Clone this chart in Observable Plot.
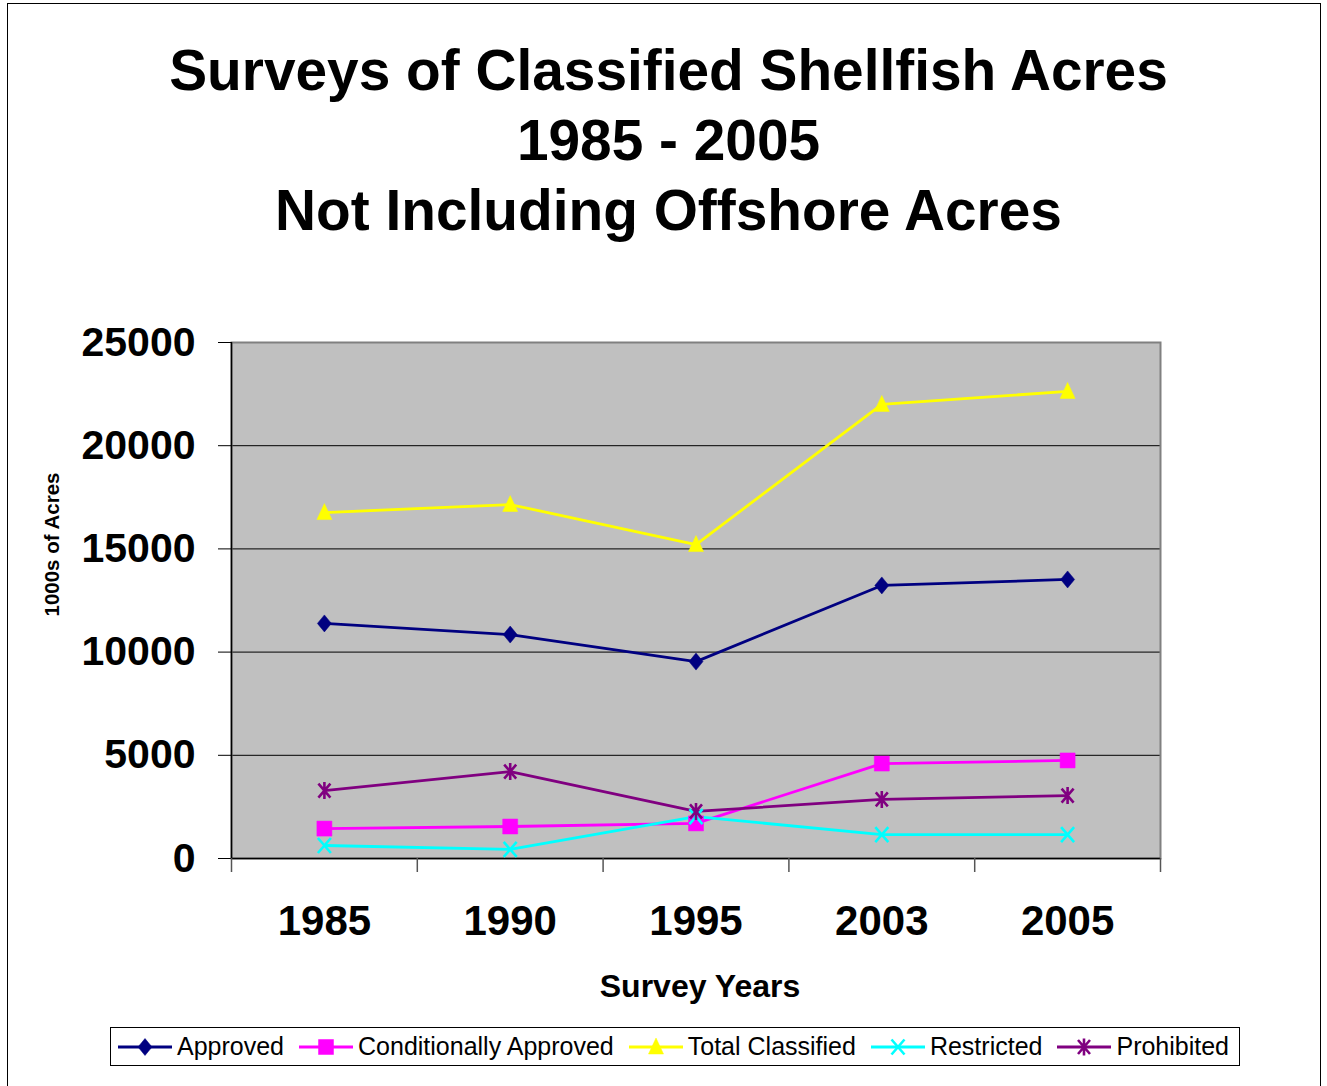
<!DOCTYPE html>
<html><head><meta charset="utf-8">
<script src="https://cdn.jsdelivr.net/npm/d3@7"></script>
<script src="https://cdn.jsdelivr.net/npm/@observablehq/plot@0.6"></script>
<style>
body{margin:0;background:#fff;font-family:"Liberation Sans",Arial,sans-serif;}
#page{position:relative;width:1327px;height:1086px;overflow:hidden;}
#frame{position:absolute;left:7px;top:3px;width:1312px;height:1100px;border:1.5px solid #000;}
#title{position:absolute;left:0;width:1337px;top:36px;text-align:center;font-weight:bold;font-size:56.8px;line-height:70px;color:#000;}
#chart{position:absolute;left:0;top:300px;}
#legend{position:absolute;left:110px;top:1027px;width:1130px;height:39px;border:1px solid #000;display:flex;align-items:center;padding-left:6px;box-sizing:border-box;font-size:25px;color:#000;white-space:nowrap;}
.item{display:flex;align-items:center;margin-right:14px;flex-shrink:0;}
.item svg{margin-right:4px;}
</style></head>
<body><div id="page"><div id="frame"></div>
<div id="title">Surveys of Classified Shellfish Acres<br>1985 - 2005<br>Not Including Offshore Acres</div>
<div id="chart"></div>
<div id="legend"></div>
</div>
<script>
const years = ["1985", "1990", "1995", "2003", "2005"];
const seriesNames = ["Approved", "Conditionally Approved", "Total Classified", "Restricted", "Prohibited"];
const approved = [11390, 10850, 9540, 13230, 13520];
const conditionallyApproved = [1450, 1550, 1700, 4600, 4750];
const totalClassified = [16760, 17150, 15210, 22000, 22630];
const restricted = [630, 440, 2030, 1160, 1160];
const prohibited = [3290, 4210, 2280, 2860, 3050];
const yTicks = [0, 5000, 10000, 15000, 20000, 25000];

const seriesValues = [approved, conditionallyApproved, totalClassified, restricted, prohibited];
const colors = ["#000080", "#FF00FF", "#FFFF00", "#00FFFF", "#800080"];

const diamond = {draw(c){c.moveTo(0,-8.5);c.lineTo(7,0);c.lineTo(0,8.5);c.lineTo(-7,0);c.closePath();}};
const square = {draw(c){c.rect(-7.5,-7.5,15,15);}};
const triangle = {draw(c){c.moveTo(0,-9);c.lineTo(7.5,7);c.lineTo(-7.5,7);c.closePath();}};
const xmark = {draw(c){c.moveTo(-6.5,-7.5);c.lineTo(6.5,7.5);c.moveTo(6.5,-7.5);c.lineTo(-6.5,7.5);}};
const asterisk = {draw(c){c.moveTo(-6,-7);c.lineTo(6,7);c.moveTo(6,-7);c.lineTo(-6,7);c.moveTo(0,-8.5);c.lineTo(0,8.5);}};
const symbols = [diamond, square, triangle, xmark, asterisk];
const filled = [true, true, true, false, false];

const rows = [];
seriesNames.forEach((s, k) => seriesValues[k].forEach((v, i) => rows.push({series: s, k, i, year: years[i], value: v})));

const idx = d3.range(years.length);
const bounds = d3.range(years.length + 1).map(i => i - 0.5);

const marks = [
  Plot.frame({fill: "#C0C0C0"}),
  Plot.ruleY(yTicks.filter(t => t > 0 && t < 25000), {stroke: "#000", strokeWidth: 1}),
  Plot.frame({stroke: "#808080", strokeWidth: 2}),
  Plot.ruleY([0], {stroke: "#000", strokeWidth: 1.5}),
  Plot.ruleX([bounds[0]], {stroke: "#000", strokeWidth: 1.5}),
  Plot.axisY(yTicks, {tickSize: 13, tickPadding: 23, fontSize: 41, fontWeight: "bold", tickFormat: d => String(d), label: null, stroke: "#000", color: "#000"}),
  Plot.axisX(idx, {tickSize: 0, tickPadding: 47, fontSize: 42, fontWeight: "bold", tickFormat: i => years[i], label: null, color: "#000"}),
  Plot.axisX(bounds, {tickSize: 14, tickFormat: () => "", label: null, stroke: "#555", strokeWidth: 1.5}),
  Plot.text(["Survey Years"], {frameAnchor: "bottom", dx: 4, dy: 138, fontSize: 32, fontWeight: "bold", fill: "#000"}),
  Plot.text(["1000s of Acres"], {frameAnchor: "left", textAnchor: "middle", rotate: -90, dx: -179, dy: -56, fontSize: 20.5, fontWeight: "bold", fill: "#000"})
];
seriesNames.forEach((s, k) => {
  const d = rows.filter(r => r.k === k);
  marks.push(Plot.line(d, {x: "i", y: "value", stroke: colors[k], strokeWidth: 2.8}));
});
seriesNames.forEach((s, k) => {
  const d = rows.filter(r => r.k === k);
  marks.push(Plot.dot(d, {x: "i", y: "value", symbol: symbols[k],
    fill: filled[k] ? colors[k] : "none", stroke: colors[k], strokeWidth: filled[k] ? 0.5 : 2.6}));
});

const chart = Plot.plot({
  width: 1327, height: 720,
  marginTop: 42, marginBottom: 162, marginLeft: 231, marginRight: 167,
  x: {domain: [bounds[0], bounds[bounds.length - 1]], axis: null},
  y: {domain: [0, 25000], axis: null},
  style: {fontFamily: "'Liberation Sans', Arial, sans-serif", background: "transparent", overflow: "visible"},
  marks
});
document.getElementById("chart").appendChild(chart);

const legend = document.getElementById("legend");
seriesNames.forEach((s, k) => {
  const item = document.createElement("div");
  item.className = "item";
  const p = d3.path();
  symbols[k].draw(p);
  item.innerHTML = `<svg width="56" height="24" viewBox="-28 -12 56 24"><line x1="-27" x2="27" y1="0" y2="0" stroke="${colors[k]}" stroke-width="2.8"/><path d="${p}" fill="${filled[k] ? colors[k] : "none"}" stroke="${colors[k]}" stroke-width="${filled[k] ? 0.5 : 2.6}"/></svg><span>${s}</span>`;
  legend.appendChild(item);
});
</script>
</body></html>
